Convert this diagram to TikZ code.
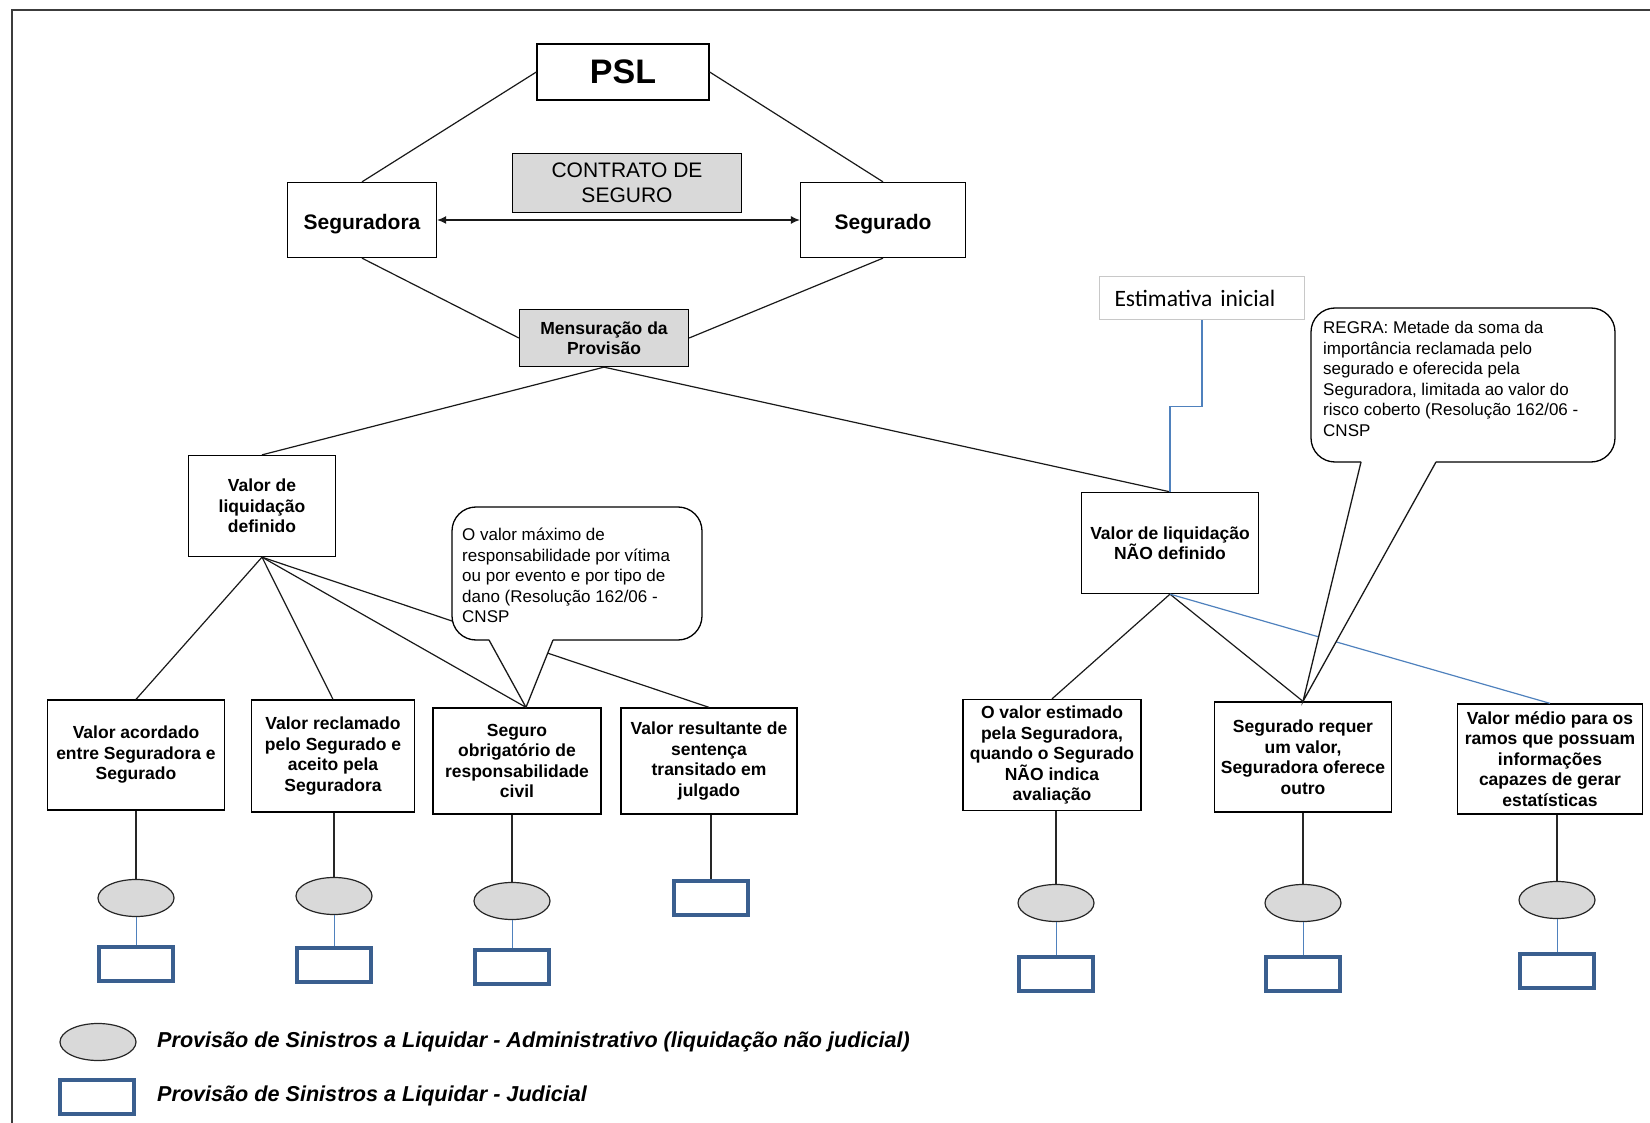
\documentclass[tikz,border=0pt]{standalone}
\usepackage{fontspec}
\setmainfont{Liberation Sans}
\newfontfamily\calfont[WordSpace=0.55]{Carlito}
\usetikzlibrary{shapes.geometric,arrows.meta,calc}

\definecolor{boxgray}{HTML}{D9D9D9}
\definecolor{linkblue}{HTML}{4F81BD}
\definecolor{judblue}{HTML}{3A5F8F}
\definecolor{framegray}{HTML}{3C3C3C}
\definecolor{estgray}{HTML}{C8C8C8}

\begin{document}
\begin{tikzpicture}[x=1pt,y=-1pt,
  every node/.style={inner sep=0pt},
  blk/.style={draw=black,line width=1.3pt,fill=white,align=center},
  shaded/.style={blk,fill=boxgray},
  lbl/.style={font=\fontsize{17.5}{20.5}\selectfont\bfseries},
  link/.style={draw=black!90,line width=1.2pt},
  bluelink/.style={draw=linkblue,line width=1.2pt},
  admin/.style={ellipse,draw=black!85,line width=1.2pt,fill=boxgray,minimum width=76pt,minimum height=37pt},
  judicial/.style={rectangle,draw=judblue,line width=4pt,fill=white,minimum width=74pt,minimum height=34pt},
  drop/.style={draw=black!85,line width=1.2pt},
  tie/.style={draw=linkblue,line width=1pt},
  balloon/.style={draw=black,line width=1.3pt,fill=white},
  note/.style={font=\fontsize{17}{20.5}\selectfont,align=left,anchor=north west},
  legend/.style={font=\fontsize{21.6}{24}\selectfont\bfseries\itshape,anchor=west},
]
\useasboundingbox (0,0) rectangle (1650,1123);

% frame
\draw[framegray,line width=2pt] (12,1123) -- (12,10) -- (1650,10);

% top of the hierarchy
\node[blk,minimum width=172pt,minimum height=56pt,font=\fontsize{34}{38}\selectfont\bfseries] (psl) at (623,72) {PSL};
\node[shaded,minimum width=229pt,minimum height=59pt,font=\fontsize{21}{25}\selectfont] (contrato) at (627,183) {CONTRATO DE\\SEGURO};
\node[blk,minimum width=149pt,minimum height=75pt,font=\fontsize{21}{25}\selectfont\bfseries] (segdora) at (362,220) {\raisebox{-4pt}[\height][\depth]{Seguradora}};
\node[blk,minimum width=165pt,minimum height=75pt,font=\fontsize{21}{25}\selectfont\bfseries] (segdo) at (883,220) {\raisebox{-4pt}[\height][\depth]{Segurado}};
\node[shaded,minimum width=169pt,minimum height=57pt,lbl] (mens) at (604,338) {Mensuração da\\Provisão};

\draw[link] (psl.west) -- (segdora.north);
\draw[link] (psl.east) -- (segdo.north);
\draw[link] (segdora.south) -- (mens.west);
\draw[link] (segdo.south) -- (mens.east);
\draw[link,{Latex[length=9pt,width=8pt]}-{Latex[length=9pt,width=8pt]}] (segdora.east) -- (segdo.west);

% two branches
\node[blk,minimum width=147pt,minimum height=101pt,lbl] (vdef) at (262,506) {Valor de\\liquidação\\definido};
\node[blk,minimum width=177pt,minimum height=101pt,lbl] (vnao) at (1170,543) {Valor de liquidação\\NÃO definido};
\node[draw=estgray,line width=1.2pt,fill=white,text width=175pt,inner xsep=15pt,align=left,minimum height=43pt,font=\fontsize{23.5}{26}\selectfont\calfont] (est) at (1202,298) {Estimativa inicial};

\draw[link] (mens.south) -- (vdef.north);
\draw[link] (mens.south) -- (vnao.north);
\draw[bluelink] (est.south) -- ++(0,86) -| (vnao.north);

% defined settlement value
\node[blk,minimum width=177pt,minimum height=110pt,lbl] (b1) at (136,755) {Valor acordado\\entre Seguradora e\\Segurado};
\node[blk,minimum width=163pt,minimum height=112pt,lbl] (b2) at (333,756) {Valor reclamado\\pelo Segurado e\\aceito pela\\Seguradora};
\node[blk,minimum width=168pt,minimum height=106pt,lbl] (b3) at (517,761) {Seguro\\obrigatório de\\responsabilidade\\civil};
\node[blk,minimum width=176pt,minimum height=106pt,lbl] (b4) at (709,761) {Valor resultante de\\sentença\\transitado em\\julgado};
\coordinate (tip3) at ($(b3.north)+(9,0)$);

\draw[link] (vdef.south) -- (b1.north);
\draw[link] (vdef.south) -- (b2.north);
\draw[link] (vdef.south) -- (tip3);
\draw[link] (vdef.south) -- (b4.north);

% undefined settlement value
\node[blk,minimum width=178pt,minimum height=111pt,lbl] (b5) at (1052,755) {O valor estimado\\pela Seguradora,\\quando o Segurado\\NÃO indica\\avaliação};
\node[blk,minimum width=177pt,minimum height=110pt,lbl] (b6) at (1303,757) {Segurado requer\\um valor,\\Seguradora oferece\\outro};
\node[blk,minimum width=185pt,minimum height=110pt,lbl] (b7) at (1550,759) {Valor médio para os\\ramos que possuam\\informações\\capazes de gerar\\estatísticas};

\draw[link] (vnao.south) -- (b5.north);
\draw[link] (vnao.south) -- (b6.north);
\draw[bluelink] (vnao.south) -- (b7.north);

% speech balloons
\coordinate (c1a) at (489,640);
\coordinate (c1b) at (553,640);
\draw[balloon,rounded corners=24pt] (452,507) rectangle (702,640);
\fill[white] (489.5,638) -- (552.5,638) -- (553,641) -- (tip3) -- (489,641) -- cycle;
\draw[link,line width=1.3pt,line join=miter] (c1a) -- (tip3) -- (c1b);
\node[note] (n1) at (462,528) {O valor máximo de\\responsabilidade por vítima\\ou por evento e por tipo de\\dano (Resolução 162/06 -\\CNSP};

\coordinate (c2a) at (1361,462);
\coordinate (c2b) at (1436,462);
\draw[balloon,rounded corners=24pt] (1311,308) rectangle (1615,462);
\fill[white] (1361.5,460) -- (1435.5,460) -- (1436,463) -- (b6.north) -- (1361,463) -- cycle;
\draw[link,line width=1.3pt,line join=miter] (c2a) -- (b6.north) -- (c2b);
\node[note] (n2) at (1323,321) {REGRA: Metade da soma da\\importância reclamada pelo\\segurado e oferecida pela\\Seguradora, limitada ao valor do\\risco coberto (Resolução 162/06 -\\CNSP};

% provisions under each case
\node[admin] (e1) at (136,898) {};
\node[judicial] (r1) at (136,964) {};
\node[admin] (e2) at (334,896) {};
\node[judicial] (r2) at (334,965) {};
\node[admin] (e3) at (512,901) {};
\node[judicial] (r3) at (512,967) {};
\node[judicial] (r4) at (711,898) {};
\node[admin] (e5) at (1056,903) {};
\node[judicial] (r5) at (1056,974) {};
\node[admin] (e6) at (1303,903) {};
\node[judicial] (r6) at (1303,974) {};
\node[admin] (e7) at (1557,900) {};
\node[judicial] (r7) at (1557,971) {};

\draw[drop] (b1.south -| e1.north) -- (e1.north);
\draw[drop] (b2.south -| e2.north) -- (e2.north);
\draw[drop] (b3.south -| e3.north) -- (e3.north);
\draw[drop] (b4.south -| r4.north) -- (r4.north);
\draw[drop] (b5.south -| e5.north) -- (e5.north);
\draw[drop] (b6.south -| e6.north) -- (e6.north);
\draw[drop] (b7.south -| e7.north) -- (e7.north);

\draw[tie] (e1.south) -- (r1.north);
\draw[tie] (e2.south) -- (r2.north);
\draw[tie] (e3.south) -- (r3.north);
\draw[tie] (e5.south) -- (r5.north);
\draw[tie] (e6.south) -- (r6.north);
\draw[tie] (e7.south) -- (r7.north);

% legend
\node[admin] (ke) at (98,1042) {};
\node[judicial] (kr) at (97,1097) {};
\node[legend] (kt1) at (157,1042) {Provisão de Sinistros a Liquidar - Administrativo (liquidação não judicial)};
\node[legend] (kt2) at (157,1096) {Provisão de Sinistros a Liquidar - Judicial};
\end{tikzpicture}
\end{document}
